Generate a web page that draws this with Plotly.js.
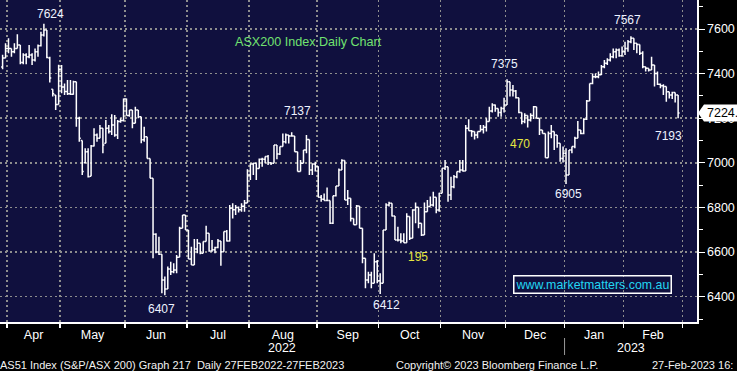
<!DOCTYPE html>
<html>
<head>
<meta charset="utf-8">
<script src="https://cdn.plot.ly/plotly-3.0.1.min.js"></script>
<style>
  html, body { margin: 0; padding: 0; background: #000; }
  #chart { width: 737px; height: 371px; }
</style>
</head>
<body>
<div id="chart"></div>
<script>
// ---- data ----
const dates = [
"2022-03-30","2022-03-31",
"2022-04-01","2022-04-04","2022-04-05","2022-04-06","2022-04-07","2022-04-08","2022-04-11","2022-04-12","2022-04-13","2022-04-14","2022-04-19","2022-04-20","2022-04-21","2022-04-22","2022-04-26","2022-04-27","2022-04-28","2022-04-29",
"2022-05-02","2022-05-03","2022-05-04","2022-05-05","2022-05-06","2022-05-09","2022-05-10","2022-05-11","2022-05-12","2022-05-13","2022-05-16","2022-05-17","2022-05-18","2022-05-19","2022-05-20","2022-05-23","2022-05-24","2022-05-25","2022-05-26","2022-05-27","2022-05-30","2022-05-31",
"2022-06-01","2022-06-02","2022-06-03","2022-06-06","2022-06-07","2022-06-08","2022-06-09","2022-06-10","2022-06-14","2022-06-15","2022-06-16","2022-06-17","2022-06-20","2022-06-21","2022-06-22","2022-06-23","2022-06-24","2022-06-27","2022-06-28","2022-06-29","2022-06-30",
"2022-07-01","2022-07-04","2022-07-05","2022-07-06","2022-07-07","2022-07-08","2022-07-11","2022-07-12","2022-07-13","2022-07-14","2022-07-15","2022-07-18","2022-07-19","2022-07-20","2022-07-21","2022-07-22","2022-07-25","2022-07-26","2022-07-27","2022-07-28","2022-07-29",
"2022-08-01","2022-08-02","2022-08-03","2022-08-04","2022-08-05","2022-08-08","2022-08-09","2022-08-10","2022-08-11","2022-08-12","2022-08-15","2022-08-16","2022-08-17","2022-08-18","2022-08-19","2022-08-22","2022-08-23","2022-08-24","2022-08-25","2022-08-26","2022-08-29","2022-08-30","2022-08-31",
"2022-09-01","2022-09-02","2022-09-05","2022-09-06","2022-09-07","2022-09-08","2022-09-09","2022-09-12","2022-09-13","2022-09-14","2022-09-15","2022-09-16","2022-09-19","2022-09-20","2022-09-21","2022-09-23","2022-09-26","2022-09-27","2022-09-28","2022-09-29","2022-09-30",
"2022-10-03","2022-10-04","2022-10-05","2022-10-06","2022-10-07","2022-10-10","2022-10-11","2022-10-12","2022-10-13","2022-10-14","2022-10-17","2022-10-18","2022-10-19","2022-10-20","2022-10-21","2022-10-24","2022-10-25","2022-10-26","2022-10-27","2022-10-28","2022-10-31",
"2022-11-01","2022-11-02","2022-11-03","2022-11-04","2022-11-07","2022-11-08","2022-11-09","2022-11-10","2022-11-11","2022-11-14","2022-11-15","2022-11-16","2022-11-17","2022-11-18","2022-11-21","2022-11-22","2022-11-23","2022-11-24","2022-11-25","2022-11-28","2022-11-29","2022-11-30",
"2022-12-01","2022-12-02","2022-12-05","2022-12-06","2022-12-07","2022-12-08","2022-12-09","2022-12-12","2022-12-13","2022-12-14","2022-12-15","2022-12-16","2022-12-19","2022-12-20","2022-12-21","2022-12-22","2022-12-23","2022-12-28","2022-12-29","2022-12-30",
"2023-01-03","2023-01-04","2023-01-05","2023-01-06","2023-01-09","2023-01-10","2023-01-11","2023-01-12","2023-01-13","2023-01-16","2023-01-17","2023-01-18","2023-01-19","2023-01-20","2023-01-23","2023-01-24","2023-01-25","2023-01-27","2023-01-30","2023-01-31",
"2023-02-01","2023-02-02","2023-02-03","2023-02-06","2023-02-07","2023-02-08","2023-02-09","2023-02-10","2023-02-13","2023-02-14","2023-02-15","2023-02-16","2023-02-17","2023-02-20","2023-02-21","2023-02-22","2023-02-23","2023-02-24","2023-02-27"
];

const openPx = [
7430,7470,7513,7513,7498,7513,7528,7450,7483,7476,
7483,7461,7498,7525,7573,7596,7470,7330,7304,7262,
7420,7340,7320,7310,7307,7364,7200,7100,7000,7050,
6940,7075,7125,7110,7155,7088,7155,7140,7170,7125,
7185,7190,7286,7212,7237,7177,7237,7207,7103,7117,
7020,6931,6680,6600,6590,6475,6435,6524,6512,6520,
6577,6707,6766,6699,6569,6542,6614,6640,6595,6647,
6684,6605,6610,6620,6650,6602,6692,6650,6796,6790,
6800,6790,6805,6820,6946,6995,6998,6975,7016,7016,
7028,7000,6998,7080,7040,7073,7095,7125,7120,7120,
7050,6961,6998,7058,7105,6968,6995,6983,6846,6837,
6831,6831,6729,6852,6896,6968,7010,6834,6841,6751,
6722,6807,6707,6572,6475,6497,6460,6557,6472,6460,
6699,6811,6819,6762,6654,6654,6650,6642,6759,6662,
6789,6801,6729,6677,6781,6804,6811,6846,6789,6864,
6976,6983,6856,6893,6938,6961,6968,6964,7155,7144,
7140,7125,7140,7150,7160,7185,7232,7259,7244,7226,
7244,7259,7364,7327,7322,7292,7226,7185,7212,7192,
7212,7252,7200,7147,7132,7023,7132,7140,7125,7088,
7020,7043,6946,7058,7073,7110,7147,7132,7195,7277,
7356,7386,7386,7395,7431,7446,7461,7476,7498,7506,
7480,7498,7513,7543,7558,7536,7531,7491,7431,7424,
7416,7439,7401,7352,7346,7342,7319,7304,7315,7304
];

const highPx = [
7485,7536,7558,7513,7536,7576,7528,7491,7491,7528,
7491,7513,7531,7588,7624,7596,7476,7330,7304,7440,
7439,7356,7371,7371,7368,7364,7207,7100,7065,7065,
7080,7155,7132,7170,7155,7192,7170,7218,7215,7192,
7200,7289,7289,7237,7237,7252,7237,7207,7162,7117,
7020,6931,6684,6669,6590,6490,6535,6557,6550,6587,
6714,6766,6766,6699,6624,6659,6659,6640,6647,6718,
6684,6654,6624,6659,6650,6692,6699,6811,6819,6811,
6804,6819,6834,6971,6998,7001,6998,7020,7023,7028,
7035,7000,7080,7080,7073,7132,7132,7125,7137,7120,
7050,7013,7058,7125,7105,6998,7005,6985,6856,6863,
6890,6831,6852,6896,6975,7016,7010,6878,6841,6751,
6811,6807,6707,6572,6512,6512,6595,6565,6505,6699,
6819,6826,6819,6762,6714,6684,6684,6774,6759,6792,
6822,6801,6729,6822,6834,6849,6871,6846,6866,6976,
7013,6983,6938,6946,6961,7013,7013,7170,7195,7147,
7140,7140,7170,7170,7200,7252,7267,7262,7244,7252,
7292,7375,7364,7349,7327,7292,7226,7222,7212,7222,
7255,7252,7200,7147,7132,7140,7170,7140,7125,7088,
7073,7065,7058,7073,7117,7188,7147,7200,7282,7356,
7401,7401,7409,7439,7461,7469,7491,7513,7513,7513,
7521,7543,7551,7567,7558,7536,7531,7500,7431,7424,
7476,7439,7409,7356,7352,7342,7319,7319,7315,7304
];

const lowPx = [
7420,7469,7491,7476,7491,7513,7442,7442,7442,7469,
7439,7454,7476,7521,7566,7469,7360,7297,7237,7262,
7312,7304,7304,7304,7305,7162,7095,6946,6998,6934,
6940,7073,7095,7110,7043,7088,7132,7125,7117,7107,
7180,7185,7212,7207,7155,7177,7200,7088,7095,7020,
6931,6572,6595,6587,6415,6407,6435,6497,6505,6505,
6577,6707,6699,6569,6542,6542,6595,6590,6595,6647,
6602,6602,6595,6617,6539,6602,6647,6647,6751,6766,
6778,6781,6781,6820,6923,6946,6923,6975,6983,6998,
6990,6990,6998,7016,7035,7073,7087,7087,7120,7050,
6961,6961,6998,7043,6946,6946,6961,6846,6826,6831,
6831,6726,6726,6849,6896,6968,6834,6811,6737,6722,
6722,6707,6550,6438,6460,6438,6460,6460,6412,6460,
6699,6804,6759,6654,6647,6640,6642,6642,6654,6662,
6729,6707,6672,6677,6781,6804,6804,6774,6781,6864,
6968,6826,6834,6886,6931,6956,6961,6964,7144,7117,
7105,7110,7140,7132,7140,7185,7226,7229,7207,7207,
7226,7259,7297,7297,7289,7222,7173,7177,7158,7185,
7197,7200,7125,7132,7023,7023,7110,7058,7068,7005,
7002,6905,6946,7043,7065,7110,7128,7128,7192,7277,
7352,7379,7379,7394,7424,7439,7454,7469,7469,7476,
7476,7483,7498,7536,7506,7491,7483,7424,7409,7409,
7416,7342,7349,7334,7304,7274,7289,7286,7271,7200
];

const closePx = [
7470,7513,7513,7498,7513,7528,7450,7483,7476,7483,
7461,7498,7525,7573,7596,7472,7380,7310,7262,7420,
7340,7320,7310,7307,7364,7200,7110,6961,7050,6938,
7075,7125,7110,7155,7080,7155,7140,7170,7125,7185,
7190,7286,7212,7237,7177,7237,7207,7103,7117,7020,
6931,6680,6600,6590,6475,6435,6524,6512,6520,6577,
6707,6766,6699,6569,6542,6614,6640,6595,6647,6684,
6605,6610,6620,6650,6602,6692,6650,6796,6790,6800,
6790,6805,6820,6946,6995,6998,6975,7016,7016,7028,
7000,6998,7080,7040,7073,7095,7125,7120,7120,7050,
6961,6998,7058,7105,6968,6995,6983,6846,6837,6831,
6831,6729,6852,6896,6968,7010,6834,6841,6751,6722,
6807,6707,6572,6475,6497,6460,6557,6472,6460,6699,
6811,6819,6762,6654,6654,6650,6642,6759,6662,6789,
6801,6729,6677,6781,6804,6811,6846,6789,6864,6976,
6983,6856,6893,6938,6961,6968,6964,7155,7144,7140,
7125,7140,7150,7160,7185,7232,7259,7244,7226,7244,
7259,7364,7327,7322,7292,7226,7185,7212,7192,7212,
7252,7200,7147,7132,7023,7132,7140,7125,7088,7020,
7043,6946,7058,7073,7110,7147,7132,7195,7277,7356,
7386,7386,7395,7431,7446,7461,7476,7498,7506,7480,
7498,7513,7543,7558,7536,7531,7491,7431,7424,7416,
7439,7401,7352,7346,7342,7319,7304,7315,7304,7224
];

const monthLabels = ["Apr","May","Jun","Jul","Aug","Sep","Oct","Nov","Dec","Jan","Feb"];
const yearLabels = ["2022","2023"];
const yTickVals = [6400,6600,6800,7000,7200,7400,7600];
const yTickText = ["6400","6600","6800","7000","7200","7400","7600"];

// ---- derived positions ----
const idx = dates.map((d, i) => i);
const bounds = [];
for (let i = 1; i < dates.length; i++) {
  if (dates[i].slice(5, 7) !== dates[i - 1].slice(5, 7)) bounds.push(i - 0.5);
}
bounds.push(dates.length + 0.5); // start of March (after the 28 Feb session)
const monthMid = [];
for (let k = 0; k + 1 < bounds.length; k++) monthMid.push((bounds[k] + bounds[k + 1]) / 2);
let yearBound = null;
for (let i = 1; i < dates.length; i++) {
  if (dates[i].slice(0, 4) !== dates[i - 1].slice(0, 4)) yearBound = i - 0.5;
}
const xRange = [-0.88, 235.4];
const yRange = [6286.6, 7730];
const lastClose = closePx[closePx.length - 1];

const FONT = "Liberation Sans, Arial, Helvetica, sans-serif";
const NUMC = "#eef3ff";

const traces = [
  {
    type: "ohlc",
    x: idx,
    open: openPx, high: highPx, low: lowPx, close: closePx,
    text: dates,
    increasing: { line: { color: "#ffffff", width: 1.5 } },
    decreasing: { line: { color: "#ffffff", width: 1.5 } },
    tickwidth: 0.5,
    hoverinfo: "skip",
    xaxis: "x", yaxis: "y",
    showlegend: false
  },
  {
    type: "scatter",
    mode: "markers",
    x: yTickVals.map(() => 1.0065),
    y: yTickVals,
    xaxis: "x3", yaxis: "y",
    marker: { symbol: "triangle-right", size: 7, color: "#ffffff", line: { width: 0 } },
    cliponaxis: false,
    hoverinfo: "skip",
    showlegend: false
  }
];

function lbl(x, y, text, color, size) {
  return { x: x, y: y, xref: "x", yref: "y", text: text, showarrow: false,
           xanchor: "center", yanchor: "middle",
           font: { family: FONT, size: size || 12, color: color || NUMC } };
}

const annotations = [
  lbl(16.1, 7667, "7624"),
  lbl(100.1, 7232, "7137"),
  lbl(170.0, 7443, "7375"),
  lbl(175.4, 7084, "470", "#e6e640"),
  lbl(211.7, 7640, "7567"),
  lbl(225.6, 7120, "7193"),
  lbl(191.7, 6860, "6905"),
  lbl(53.7, 6345, "6407"),
  lbl(130.0, 6363, "6412"),
  lbl(140.8, 6578, "195", "#e6e640"),
  { x: 200.1, y: 6455, xref: "x", yref: "y", text: "www.marketmatters.com.au", showarrow: false,
    xanchor: "center", yanchor: "middle", bordercolor: "#ffffff", borderwidth: 1.5, borderpad: 1,
    font: { family: FONT, size: 12.4, color: "#22d6f2" } },
  { x: 233 / 697, y: 1 - 42 / 322, xref: "paper", yref: "paper", text: "ASX200 Index Daily Chart",
    showarrow: false, xanchor: "left", yanchor: "middle",
    font: { family: FONT, size: 12.6, color: "#70e270" } },
  // years
  { x: (xRange[0] + yearBound) / 2, y: -26 / 322, xref: "x", yref: "paper", text: yearLabels[0],
    showarrow: false, xanchor: "center", yanchor: "middle", font: { family: FONT, size: 12.5, color: "#ffffff" } },
  { x: (yearBound + xRange[1]) / 2, y: -26 / 322, xref: "x", yref: "paper", text: yearLabels[1],
    showarrow: false, xanchor: "center", yanchor: "middle", font: { family: FONT, size: 12.5, color: "#ffffff" } },
  // footer
  { x: -2 / 697, y: -43 / 322, xref: "paper", yref: "paper", text: "AS51 Index (S&amp;P/ASX 200) Graph 217\u00a0 Daily 27FEB2022-27FEB2023",
    showarrow: false, xanchor: "left", yanchor: "middle", font: { family: FONT, size: 11, color: "#f2f2f2" } },
  { x: 394 / 697, y: -43 / 322, xref: "paper", yref: "paper", text: "Copyright\u00a9 2023 Bloomberg Finance L.P.",
    showarrow: false, xanchor: "left", yanchor: "middle", font: { family: FONT, size: 11, color: "#f2f2f2" } },
  { x: 650 / 697, y: -43 / 322, xref: "paper", yref: "paper", text: "27-Feb-2023 16:",
    showarrow: false, xanchor: "left", yanchor: "middle", font: { family: FONT, size: 11, color: "#f2f2f2" } },
  // last price label
  { x: 704.5 / 697, y: lastClose, xref: "paper", yref: "y", text: lastClose.toFixed(0) + ".",
    showarrow: false, xanchor: "left", yanchor: "middle", font: { family: FONT, size: 12.5, color: "#000000" } }
];

const halfH = 8.5 * (yRange[1] - yRange[0]) / 322;
const shapes = [
  { type: "line", xref: "x", yref: "paper", x0: yearBound, x1: yearBound, y0: -16 / 322, y1: -33 / 322,
    line: { color: "#9a9a9a", width: 1 } },
  { type: "path", xref: "paper", yref: "y", layer: "above",
    path: "M " + (698 / 697) + "," + lastClose +
          " L " + (704 / 697) + "," + (lastClose + halfH) +
          " L " + (760 / 697) + "," + (lastClose + halfH) +
          " L " + (760 / 697) + "," + (lastClose - halfH) +
          " L " + (704 / 697) + "," + (lastClose - halfH) + " Z",
    fillcolor: "#ffffff", line: { width: 0 } }
];

const GRID = "#8e8e8e";
const layout = {
  width: 737, height: 371,
  margin: { l: 0, r: 40, t: 0, b: 49, pad: 0 },
  paper_bgcolor: "#000000",
  plot_bgcolor: "#10103e",
  showlegend: false,
  dragmode: false,
  font: { family: FONT, color: "#ffffff", size: 12 },
  xaxis: {
    type: "linear", range: xRange, fixedrange: true,
    tickmode: "array", tickvals: monthMid, ticktext: monthLabels,
    ticks: "", showgrid: false,
    tickfont: { family: FONT, size: 12.5, color: "#ffffff" },
    minor: { tickmode: "array", tickvals: bounds, ticks: "outside", ticklen: 4, tickwidth: 1.5,
             tickcolor: "#ffffff", showgrid: true, gridcolor: "#8e8e8e", gridwidth: 1.5, griddash: "2px,3px" },
    showline: true, linecolor: "#ffffff", linewidth: 1.5,
    zeroline: false, rangeslider: { visible: false }
  },
  xaxis3: {
    type: "linear", overlaying: "x", anchor: "y", range: [0, 1], visible: false, fixedrange: true
  },
  yaxis: {
    type: "linear", side: "right", range: yRange, fixedrange: true,
    tickmode: "array", tickvals: yTickVals, ticktext: yTickText,
    ticks: "outside", ticklen: 6, tickwidth: 1, tickcolor: "#ffffff",
    tickfont: { family: FONT, size: 12.5, color: "#ffffff" },
    showgrid: true, gridcolor: GRID, gridwidth: 1.5, griddash: "2px,3px",
    showline: true, linecolor: "#ffffff", linewidth: 1.5, zeroline: false,
    minor: { tickmode: "linear", tick0: 6300, dtick: 100, ticks: "outside", ticklen: 4,
             tickcolor: "#ffffff", tickwidth: 1, showgrid: false }
  },
  annotations: annotations,
  shapes: shapes
};

Plotly.newPlot("chart", traces, layout, { staticPlot: true, displayModeBar: false });
</script>
</body>
</html>
